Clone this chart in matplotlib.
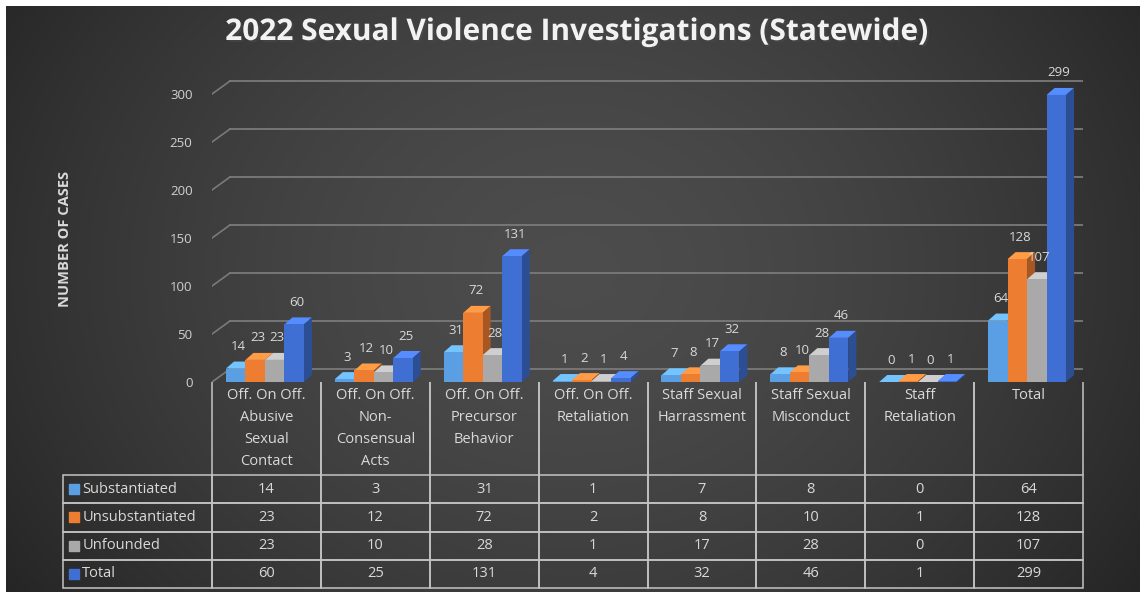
import numpy as np
import matplotlib
matplotlib.use("Agg")
from matplotlib import pyplot as plt
from matplotlib.table import Table
from matplotlib.colors import to_rgb
import matplotlib.patheffects as pe

plt.rcParams['font.family'] = ['Open Sans', 'DejaVu Sans']

categories = ["Off. On Off.\nAbusive\nSexual\nContact",
              "Off. On Off.\nNon-\nConsensual\nActs",
              "Off. On Off.\nPrecursor\nBehavior",
              "Off. On Off.\nRetaliation",
              "Staff Sexual\nHarrassment",
              "Staff Sexual\nMisconduct",
              "Staff\nRetaliation",
              "Total"]
series = ["Substantiated", "Unsubstantiated", "Unfounded", "Total"]
substantiated = [14, 3, 31, 1, 7, 8, 0, 64]
unsubstantiated = [23, 12, 72, 2, 8, 10, 1, 128]
unfounded = [23, 10, 28, 1, 17, 28, 0, 107]
total = [60, 25, 131, 4, 32, 46, 1, 299]
colors = ['#5A9FE3', '#ED7D31', '#A9A9A9', '#3F6FD3']
yticks = [0, 50, 100, 150, 200, 250, 300]

values = [substantiated, unsubstantiated, unfounded, total]

W, H = 1140, 592
fig = plt.figure(figsize=(W / 100, H / 100), dpi=100)
fig.patch.set_facecolor('white')

# dark radial background
bg = fig.add_axes([6 / W, 0, 1 - 6 / W, 1 - 6 / H])
gx, gy = np.meshgrid(np.linspace(0, 1, 400), np.linspace(0, 1, 200))
r = np.sqrt(((gx - 0.5) / 0.62) ** 2 + ((gy - 0.45) / 1.0) ** 2)
shade = 0.30 - 0.16 * np.clip(r, 0, 1) ** 1.6
bg.imshow(np.dstack([shade] * 3), aspect='auto', extent=[0, 1, 0, 1])
bg.axis('off')

# chart area
ymax = 330
ax_left, ax_right, ax_base = 212, 1083, 382
ax_h = ymax * 0.96
ax = fig.add_axes([ax_left / W, (H - ax_base) / H, (ax_right - ax_left) / W, ax_h / H])
ax.set_facecolor('none')
ax.set_xlim(-0.5, len(categories) - 0.5)
ax.set_ylim(0, ymax)
for s in ax.spines.values():
    s.set_visible(False)
ax.set_xticks([])
ax.set_yticks(yticks)
ax.tick_params(axis='y', length=0, pad=14, labelcolor='#D0D0D0', labelsize=9.5)

ppx = (ax_right - ax_left) / len(categories)   # pixels per category
ppu = ax_h / ymax                              # pixels per unit

# back wall gridlines with perspective offset
wdx, wdy = 18 / ppx, 13 / ppu
for v in yticks:
    ax.plot([-0.5, -0.5 + wdx], [v, v + wdy], color='#7a7a7a', lw=1.2, zorder=1)
    ax.plot([-0.5 + wdx, len(categories) - 0.5 + wdx], [v + wdy, v + wdy],
            color='#7a7a7a', lw=1.3, zorder=1)

# 3D-ish bars
bw = 19.5 / ppx
bdx, bdy = 8 / ppx, 7 / ppu
z = 3
for ci in range(len(categories)):
    for si, vals in enumerate(values):
        v = vals[ci]
        x0 = ci + (si - 2) * bw - 1.5 / ppx
        base = np.array(to_rgb(colors[si]))
        side = base * 0.7
        top = np.clip(base * 1.15 + 0.05, 0, 1)
        ax.fill([x0, x0 + bdx, x0 + bw + bdx, x0 + bw], [v, v + bdy, v + bdy, v],
                color=top, zorder=z, lw=0)
        ax.fill([x0 + bw, x0 + bw + bdx, x0 + bw + bdx, x0 + bw], [0, bdy, v + bdy, v],
                color=side, zorder=z, lw=0)
        ax.bar(x0, v, width=bw, align='edge', color=colors[si], zorder=z + 0.5, lw=0)
        z += 1
        ax.annotate(str(v), (x0 + bw / 2 + bdx / 3, v), xytext=(0, 22),
                    textcoords='offset pixels', ha='center', va='center',
                    color='#D9D9D9', fontsize=9.5, zorder=100)

# title and axis label
fig.text(577 / W, 1 - 32 / H, "2022 Sexual Violence Investigations (Statewide)",
         ha='center', va='center', fontsize=21.5, fontweight='bold', color='#F2F2F2',
         path_effects=[pe.withSimplePatchShadow(offset=(1.5, -1.5), alpha=0.6)])
fig.text(65 / W, 1 - 239 / H, "NUMBER OF CASES", rotation=90, ha='center', va='center',
         fontsize=10.5, fontweight='bold', color='#D9D9D9')

# data table
tab_left, tab_top, tab_bottom = 63, 382, 588
tab = fig.add_axes([tab_left / W, (H - tab_bottom) / H,
                    (ax_right - tab_left) / W, (tab_bottom - tab_top) / H])
tab.set_xlim(0, 1)
tab.set_ylim(0, 1)
tab.axis('off')

col0_w = 212 - tab_left
head_h, row_h = 93, 28.25
tot_w = col0_w + ppx * len(categories)
tot_h = head_h + row_h * len(series)
line_c = '#C4C4C4'

tb = Table(tab, bbox=[0, 0, 1, 1])
tb.auto_set_font_size(False)
for j, cat in enumerate(categories):
    padded = cat + "\n" * (3 - cat.count("\n"))
    c = tb.add_cell(0, j + 1, width=ppx / tot_w, height=head_h / tot_h, text=padded,
                    loc='center', facecolor='none', edgecolor=line_c)
    c.visible_edges = 'LR'
    c.get_text().set_linespacing(1.62)
c = tb.add_cell(0, 0, width=col0_w / tot_w, height=head_h / tot_h, text='',
                facecolor='none', edgecolor=line_c)
c.visible_edges = ''
for i, name in enumerate(series):
    c = tb.add_cell(i + 1, 0, width=col0_w / tot_w, height=row_h / tot_h, text=name,
                    loc='left', facecolor='none', edgecolor=line_c)
    c.PAD = 0.13
    for j in range(len(categories)):
        tb.add_cell(i + 1, j + 1, width=ppx / tot_w, height=row_h / tot_h,
                    text=str(values[i][j]), loc='center', facecolor='none',
                    edgecolor=line_c)
tb.set_fontsize(10.5)
for cell in tb.get_celld().values():
    cell.set_linewidth(1.1)
    cell.get_text().set_color('#D9D9D9')
tab.add_table(tb)

# legend keys in row label cells
for i in range(len(series)):
    yc = 1 - (head_h + row_h * (i + 0.5)) / tot_h
    tab.plot([11 / tot_w], [yc], marker='s', ms=6.5, color=colors[i], lw=0)

fig.savefig("out.png", dpi=100, facecolor=fig.get_facecolor())
